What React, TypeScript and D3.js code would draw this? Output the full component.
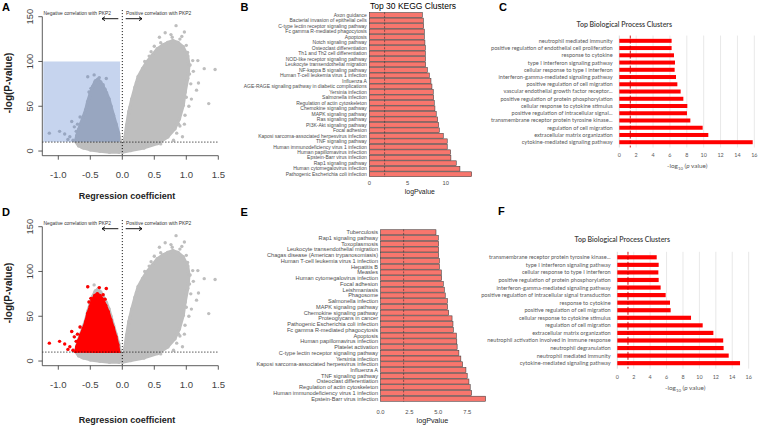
import React, { useEffect } from 'react'
import * as d3 from 'd3'

// ---- volcano (A / D) ----
// outline of the dense point cloud, positive side [coef, -log p]
const posCloud: [number, number][] = [
  [0.01, 3], [0.04, 14], [0.07, 29], [0.105, 44], [0.15, 58], [0.2, 71], [0.25, 83], [0.32, 92],
  [0.38, 99], [0.47, 107], [0.55, 114], [0.63, 118], [0.71, 121], [0.79, 123], [0.87, 121],
  [0.95, 116], [1.02, 106], [1.04, 96], [1.02, 81], [0.98, 66], [0.95, 51], [0.89, 36],
  [0.82, 25], [0.71, 16], [0.55, 8.5], [0.34, 3.7], [0.13, 0.7], [0.0, -1.1],
]
// negative side cloud
const negCloud: [number, number][] = [
  [-0.02, 3], [-0.03, 10], [-0.06, 20], [-0.1, 30], [-0.14, 40], [-0.18, 50], [-0.21, 58],
  [-0.25, 65], [-0.3, 72], [-0.34, 77], [-0.38, 80], [-0.42, 78], [-0.46, 72], [-0.5, 64],
  [-0.54, 55], [-0.57, 46], [-0.61, 38], [-0.65, 30], [-0.68, 24], [-0.71, 17], [-0.73, 11],
  [-0.68, 6], [-0.6, 3.5], [-0.5, 1.5], [-0.35, 0], [-0.2, -1], [-0.05, -1.2],
]
// significant negative genes (red in D)
const redCloud: [number, number][] = [
  [-0.05, 9], [-0.07, 18], [-0.1, 27], [-0.14, 37], [-0.18, 46], [-0.22, 55], [-0.26, 62],
  [-0.31, 69], [-0.35, 73], [-0.39, 75], [-0.43, 73], [-0.47, 68], [-0.5, 61], [-0.54, 53],
  [-0.57, 44], [-0.61, 36], [-0.65, 29], [-0.68, 23], [-0.71, 16], [-0.73, 10], [-0.4, 9],
]
const negPoints: [number, number][] = [
  [-1.14, 20], [-0.98, 22], [-0.9, 19], [-0.85, 13], [-0.82, 16], [-0.79, 33], [-0.77, 12],
  [-0.75, 27], [-0.72, 22], [-0.7, 30], [-0.66, 38], [-0.63, 4], [-0.54, 83], [-0.44, 85],
  [-0.25, 81], [-0.49, 70], [-0.36, 82], [-0.3, 74], [-0.52, 66], [-0.27, 69],
]
const posPoints: [number, number][] = [
  [0.84, 140], [0.67, 132], [0.97, 133], [0.58, 127], [0.5, 117], [0.42, 106], [1.45, 91],
  [1.28, 92], [1.35, 53], [1.19, 76], [1.11, 89], [1.16, 68], [1.08, 58], [1.04, 50],
  [0.98, 40], [0.94, 16], [0.8, 12], [1.18, 101], [1.1, 101], [1.05, 86], [0.76, 130],
  [0.9, 125], [1.02, 110], [0.7, 20], [0.88, 30], [0.35, 100], [0.45, 111], [0.6, 121],
  [1.0, 118], [1.07, 75], [1.0, 60], [0.97, 30], [0.9, 28], [0.85, 20], [0.6, 8], [0.12, 49],
  [0.22, 76], [0.78, 127], [0.93, 128], [1.06, 96],
]
const volcXTicks = [-1.0, -0.5, 0.0, 0.5, 1.0, 1.5]
const volcYTicks = [0, 50, 100, 150]
const pThreshold = 10

// ---- KEGG (B / E) ----
const keggBLabels = [
  'Axon guidance', 'Bacterial invasion of epithelial cells', 'C-type lectin receptor signaling pathway',
  'Fc gamma R-mediated phagocytosis', 'Apoptosis', 'Notch signaling pathway', 'Osteoclast differentiation',
  'Th1 and Th2 cell differentiation', 'NOD-like receptor signaling pathway',
  'Leukocyte transendothelial migration', 'NF-kappa B signaling pathway',
  'Human T-cell leukemia virus 1 infection', 'Influenza A',
  'AGE-RAGE signaling pathway in diabetic complications', 'Yersinia infection', 'Salmonella infection',
  'Regulation of actin cytoskeleton', 'Chemokine signaling pathway', 'MAPK signaling pathway',
  'Ras signaling pathway', 'PI3K-Akt signaling pathway', 'Focal adhesion',
  'Kaposi sarcoma-associated herpesvirus infection', 'TNF signaling pathway',
  'Human immunodeficiency virus 1 infection', 'Human papillomavirus infection',
  'Epstein-Barr virus infection', 'Rap1 signaling pathway', 'Human cytomegalovirus infection',
  'Pathogenic Escherichia coli infection',
]
const keggBValues = [
  6.94, 7.07, 7.11, 7.2, 7.2, 7.28, 7.33, 7.33, 7.35, 7.37, 7.59, 7.85, 8.07, 8.2, 8.37, 8.42,
  8.5, 8.59, 8.76, 8.94, 9.07, 9.16, 9.68, 10.2, 10.2, 10.64, 10.68, 11.38, 11.86, 13.4,
]
const keggELabels = [
  'Tuberculosis', 'Rap1 signaling pathway', 'Toxoplasmosis', 'Leukocyte transendothelial migration',
  'Chagas disease (American trypanosomiasis)', 'Human T-cell leukemia virus 1 infection', 'Hepatitis B',
  'Measles', 'Human cytomegalovirus infection', 'Focal adhesion', 'Leishmaniasis', 'Phagosome',
  'Salmonella infection', 'MAPK signaling pathway', 'Chemokine signaling pathway',
  'Proteoglycans in cancer', 'Pathogenic Escherichia coli infection', 'Fc gamma R-mediated phagocytosis',
  'Apoptosis', 'Human papillomavirus infection', 'Platelet activation',
  'C-type lectin receptor signaling pathway', 'Yersinia infection',
  'Kaposi sarcoma-associated herpesvirus infection', 'Influenza A', 'TNF signaling pathway',
  'Osteoclast differentiation', 'Regulation of actin cytoskeleton',
  'Human immunodeficiency virus 1 infection', 'Epstein-Barr virus infection',
]
const keggEValues = [
  4.8, 5.0, 5.03, 5.03, 5.03, 5.1, 5.1, 5.26, 5.29, 5.43, 5.52, 5.6, 5.78, 5.8, 5.9, 6.19, 6.27,
  6.3, 6.56, 6.6, 6.63, 6.78, 6.95, 7.1, 7.39, 7.5, 7.65, 7.76, 7.88, 9.09,
]
const keggBTicks = [0, 5, 10]
const keggETicks = [0, 2.5, 5, 7.5]

// ---- GO biological process (C / F) ----
const goCLabels = [
  'neutrophil mediated immunity', 'positive regulation of endothelial cell proliferation',
  'response to cytokine', 'type I interferon signaling pathway', 'cellular response to type I interferon',
  'interferon-gamma-mediated signaling pathway', 'positive regulation of cell migration',
  'vascular endothelial growth factor receptor...', 'positive regulation of protein phosphorylation',
  'cellular response to cytokine stimulus', 'positive regulation of intracellular signal...',
  'transmembrane receptor protein tyrosine kinase...', 'regulation of cell migration',
  'extracellular matrix organization', 'cytokine-mediated signaling pathway',
]
const goCValues = [6.2, 6.2, 6.48, 6.6, 6.56, 6.72, 6.88, 7.27, 7.59, 8.06, 8.02, 8.42, 9.88, 10.55, 15.81]
const goFLabels = [
  'transmembrane receptor protein tyrosine kinase...', 'type I interferon signaling pathway',
  'cellular response to type I interferon', 'positive regulation of protein phosphorylation',
  'interferon-gamma-mediated signaling pathway', 'positive regulation of intracellular signal transduction',
  'response to cytokine', 'positive regulation of cell migration', 'cellular response to cytokine stimulus',
  'regulation of cell migration', 'extracellular matrix organization',
  'neutrophil activation involved in immune response', 'neutrophil degranulation',
  'neutrophil mediated immunity', 'cytokine-mediated signaling pathway',
]
const goFValues = [4.8, 5.04, 5.0, 5.04, 5.28, 5.89, 6.42, 6.5, 8.98, 10.4, 11.7, 12.9, 12.95, 13.57, 14.95]
const goTicks = [0, 2, 4, 6, 8, 10, 12, 14, 16]

const ARIAL = '"Liberation Sans", Arial, sans-serif'
const CAL = 'Lato, "Open Sans", sans-serif'

const Volcano = ({ top, mode }: { top: number; mode: 'blue' | 'red' }) => {
  const x = d3.scaleLinear().domain([-1.25, 1.5]).range([42.3, 218.3])
  const y = d3.scaleLinear().domain([-5.2, 150]).range([top + 155.7, top + 16.7])
  const shape = d3
    .line<[number, number]>()
    .x((d) => x(d[0]))
    .y((d) => y(d[1]))
    .curve(d3.curveLinearClosed)
  const gray = '#bebebe'
  const clipId = `sig${top}`
  const arrowY = top + 18.7

  return (
    <g fontFamily={ARIAL}>
      <defs>
        <clipPath id={clipId}>
          <rect x={0} y={top} width={122} height={y(pThreshold - 0.8) - top} />
        </clipPath>
      </defs>
      <path d={shape(posCloud) || ''} fill={gray} stroke={gray} strokeWidth={3.4} strokeLinejoin="round" />
      <path d={shape(negCloud) || ''} fill={gray} stroke={gray} strokeWidth={3.4} strokeLinejoin="round" />
      {[...posCloud, ...negCloud].map((d, i) => (
        <circle key={'v' + i} cx={x(d[0])} cy={y(d[1])} r={1.9} fill={gray} />
      ))}
      {posPoints.map((d, i) => (
        <circle key={'p' + i} cx={x(d[0])} cy={y(d[1])} r={1.7} fill={gray} />
      ))}
      {negPoints.map((d, i) => (
        <circle key={'n' + i} cx={x(d[0])} cy={y(d[1])} r={1.7}
          fill={mode === 'red' && d[1] > pThreshold && d[0] < -0.8 ? '#ff0000' : gray} />
      ))}
      {mode === 'red' && (
        <g clipPath={`url(#${clipId})`}>
          <path d={shape(redCloud) || ''} fill="#ff0000" stroke="#ff0000" strokeWidth={3} strokeLinejoin="round" />
          {redCloud.map((d, i) => (
            <circle key={'r' + i} cx={x(d[0])} cy={y(d[1])} r={1.8} fill="#ff0000" />
          ))}
          {negPoints.filter((d) => d[1] > pThreshold && d[0] >= -0.8 && d[0] !== -0.44).map((d, i) => (
            <circle key={'rp' + i} cx={x(d[0])} cy={y(d[1])} r={1.7} fill="#ff0000" />
          ))}
        </g>
      )}
      {mode === 'blue' && (
        <rect x={x(-1.235)} y={y(100)} width={x(-0.035) - x(-1.235)} height={y(pThreshold + 0.3) - y(100)}
          fill="rgb(60,108,198)" fillOpacity={0.29} />
      )}
      {/* threshold lines */}
      <line x1={x(-1.25)} x2={x(1.5)} y1={y(pThreshold)} y2={y(pThreshold)} stroke="#000" strokeWidth={0.9} strokeDasharray="1.1 1.9" />
      <line x1={x(0)} x2={x(0)} y1={top + 10} y2={y(-5.2)} stroke="#000" strokeWidth={0.9} strokeDasharray="1.1 1.9" />
      {/* axes */}
      <path d={`M${x(-1.25)},${y(150)}V${y(-5.2)}H${x(1.5)}`} fill="none" stroke="#333" strokeWidth={0.8} />
      {volcYTicks.map((t) => (
        <g key={'yt' + t}>
          <line x1={x(-1.25) - 4} x2={x(-1.25)} y1={y(t)} y2={y(t)} stroke="#333" strokeWidth={0.8} />
          <text transform={`translate(33,${y(t)}) rotate(-90)`} textAnchor="middle" fontSize={9.3} fill="#444">{t}</text>
        </g>
      ))}
      {volcXTicks.map((t) => (
        <g key={'xt' + t}>
          <line x1={x(t)} x2={x(t)} y1={y(-5.2)} y2={y(-5.2) + 4} stroke="#333" strokeWidth={0.8} />
          <text x={x(t)} y={top + 177.5} textAnchor="middle" fontSize={9.6} fill="#444">{t.toFixed(1)}</text>
        </g>
      ))}
      <text transform={`translate(11.5,${top + 83}) rotate(-90)`} textAnchor="middle" fontSize={10} fontWeight="bold" fill="#222">-log(P-value)</text>
      <text x={127} y={top + (mode === 'red' ? 212.5 : 198.5)} textAnchor="middle" fontSize={9} fontWeight="bold" fill="#222">Regression coefficient</text>
      {/* direction annotations */}
      <text x={43.5} y={top + 14.8} fontSize={4.9} fill="#333">Negative correlation with PKP2</text>
      <text x={126} y={top + 14.8} fontSize={4.9} fill="#333">Positive correlation with PKP2</text>
      <path d={`M118.3,${arrowY}H102 M105,${arrowY - 2}L102,${arrowY}L105,${arrowY + 2}`} fill="none" stroke="#000" strokeWidth={0.9} />
      <path d={`M125.7,${arrowY}H142 M139,${arrowY - 2}L142,${arrowY}L139,${arrowY + 2}`} fill="none" stroke="#000" strokeWidth={0.9} />
    </g>
  )
}

interface KeggProps {
  top: number
  bottom: number
  labels: string[]
  values: number[]
  x0: number
  k: number
  xMax: number
  ticks: number[]
  fmt: (v: number) => string
  labelSize: number
  tickY: number
  titleY: number
  titleSize: number
  clipId: string
}

const KeggBars = (p: KeggProps) => {
  const x = d3.scaleLinear().domain([0, p.xMax]).range([p.x0, p.x0 + p.xMax * p.k])
  const y = d3.scaleBand<string>().domain(p.labels).range([p.top, p.bottom]).paddingInner(0.12).paddingOuter(0.06)
  return (
    <g fontFamily={ARIAL}>
      <defs>
        <clipPath id={p.clipId}>
          <rect x={240} y={p.top - 10} width={140} height={p.bottom - p.top + 20} />
        </clipPath>
      </defs>
      <g clipPath={`url(#${p.clipId})`}>
        {p.labels.map((l) => (
          <text key={l} x={p.x0 - 2.5} y={(y(l) || 0) + y.bandwidth() / 2} dy="0.35em" textAnchor="end"
            fontSize={p.labelSize} fill="#4d4d4d">{l}</text>
        ))}
      </g>
      {p.labels.map((l, i) => (
        <rect key={'b' + l} x={x(0)} y={y(l)} width={x(p.values[i]) - x(0)} height={y.bandwidth()}
          fill="#f8766d" stroke="#3a3a3a" strokeWidth={0.55} />
      ))}
      <line x1={x(2)} x2={x(2)} y1={p.top} y2={p.bottom} stroke="#333" strokeWidth={0.6} strokeDasharray="2 1.5" />
      {p.ticks.map((t) => (
        <text key={'t' + t} x={x(t)} y={p.tickY} textAnchor="middle" fontSize={5.8} fill="#4d4d4d">{p.fmt(t)}</text>
      ))}
      <text x={x(0) + (x(p.xMax) - x(0)) / 2 - 3} y={p.titleY} textAnchor="middle" fontSize={p.titleSize} fill="#222">logPvalue</text>
    </g>
  )
}

interface GoProps {
  top: number
  step: number
  labels: string[]
  values: number[]
  x0: number
  k: number
  labelRight: number
  tickY: number
  axisTitleY: number
  titleY: number
}

const GoBars = (p: GoProps) => {
  const x = d3.scaleLinear().domain([0, 16]).range([p.x0, p.x0 + 16 * p.k])
  const n = p.labels.length
  const y = d3.scaleBand<string>().domain(p.labels)
    .range([p.top - p.step / 2, p.top + (n - 0.5) * p.step]).padding(0.45)
  const y0 = p.top - p.step / 2
  const y1 = p.top + (n - 0.5) * p.step
  return (
    <g fontFamily={CAL}>
      <text x={x(0) + 5} y={p.titleY} textAnchor="middle" fontSize={7} fontWeight={600} fill="#404040">Top Biological Process Clusters</text>
      {goTicks.filter((t) => t > 0).map((t) => (
        <line key={'g' + t} x1={x(t)} x2={x(t)} y1={y0} y2={y1} stroke="#d9d9d9" strokeWidth={0.6} />
      ))}
      <line x1={x(0)} x2={x(0)} y1={y0} y2={y1} stroke="#bfbfbf" strokeWidth={0.6} />
      {p.labels.map((l, i) => (
        <g key={l}>
          <text x={p.labelRight} y={(y(l) || 0) + y.bandwidth() / 2} dy="0.35em" textAnchor="end" fontSize={5.6} fill="#595959">{l}</text>
          <rect x={x(0)} y={y(l)} width={x(p.values[i]) - x(0)} height={y.bandwidth()} fill="#ff0000" />
        </g>
      ))}
      <line x1={x(1.3)} x2={x(1.3)} y1={y0} y2={y1} stroke="#c00000" strokeWidth={0.9} strokeDasharray="3 2" />
      {goTicks.map((t) => (
        <text key={'t' + t} x={x(t)} y={p.tickY} textAnchor="middle" fontSize={5.4} fill="#595959">{t}</text>
      ))}
      <text x={x(0) + 68} y={p.axisTitleY} textAnchor="middle" fontSize={6.4} fill="#595959">
        -log<tspan fontSize={4.3} dy={1.5}>10</tspan><tspan dy={-1.5}> (</tspan><tspan fontStyle="italic">p</tspan> value)
      </text>
    </g>
  )
}

const PanelLabel = ({ x, y, t }: { x: number; y: number; t: string }) => (
  <text x={x} y={y} fontFamily={ARIAL} fontSize={11} fontWeight="bold" fill="#000">{t}</text>
)

export default function App() {
  useEffect(() => {
    document.body.style.margin = '0'
  }, [])
  return (
    <svg width={760} height={425} style={{ display: 'block', position: 'absolute', left: 0, top: 0, background: '#fff' }}>
      <rect width={760} height={425} fill="#fff" />
      <Volcano top={0} mode="blue" />
      <Volcano top={210} mode="red" />

      <text x={413} y={8.5} textAnchor="middle" fontFamily={ARIAL} fontSize={8.5} fill="#000">Top 30 KEGG Clusters</text>
      <KeggBars top={12.26} bottom={176.96} labels={keggBLabels} values={keggBValues} x0={369.3} k={7.64}
        xMax={14} ticks={keggBTicks} fmt={(v) => String(v)} labelSize={5.0} tickY={185} titleY={194.2}
        titleSize={6.8} clipId="clipB" />
      <KeggBars top={229.4} bottom={401.6} labels={keggELabels} values={keggEValues} x0={380.5} k={11.56}
        xMax={9.5} ticks={keggETicks} fmt={(v) => v.toFixed(1)} labelSize={5.6} tickY={413.8} titleY={422.6}
        titleSize={7.2} clipId="clipE" />

      <GoBars top={39.3} step={7.46} labels={goCLabels} values={goCValues} x0={619.3} k={8.4375}
        labelRight={612.7} tickY={157} axisTitleY={168} titleY={26.5} />
      <GoBars top={255.7} step={7.79} labels={goFLabels} values={goFValues} x0={617.3} k={8.21}
        labelRight={610.7} tickY={379} axisTitleY={390} titleY={241.8} />

      <PanelLabel x={2} y={10.5} t="A" />
      <PanelLabel x={240.5} y={10.5} t="B" />
      <PanelLabel x={499} y={11} t="C" />
      <PanelLabel x={2} y={216} t="D" />
      <PanelLabel x={240.5} y={216} t="E" />
      <PanelLabel x={498} y={215} t="F" />
    </svg>
  )
}
